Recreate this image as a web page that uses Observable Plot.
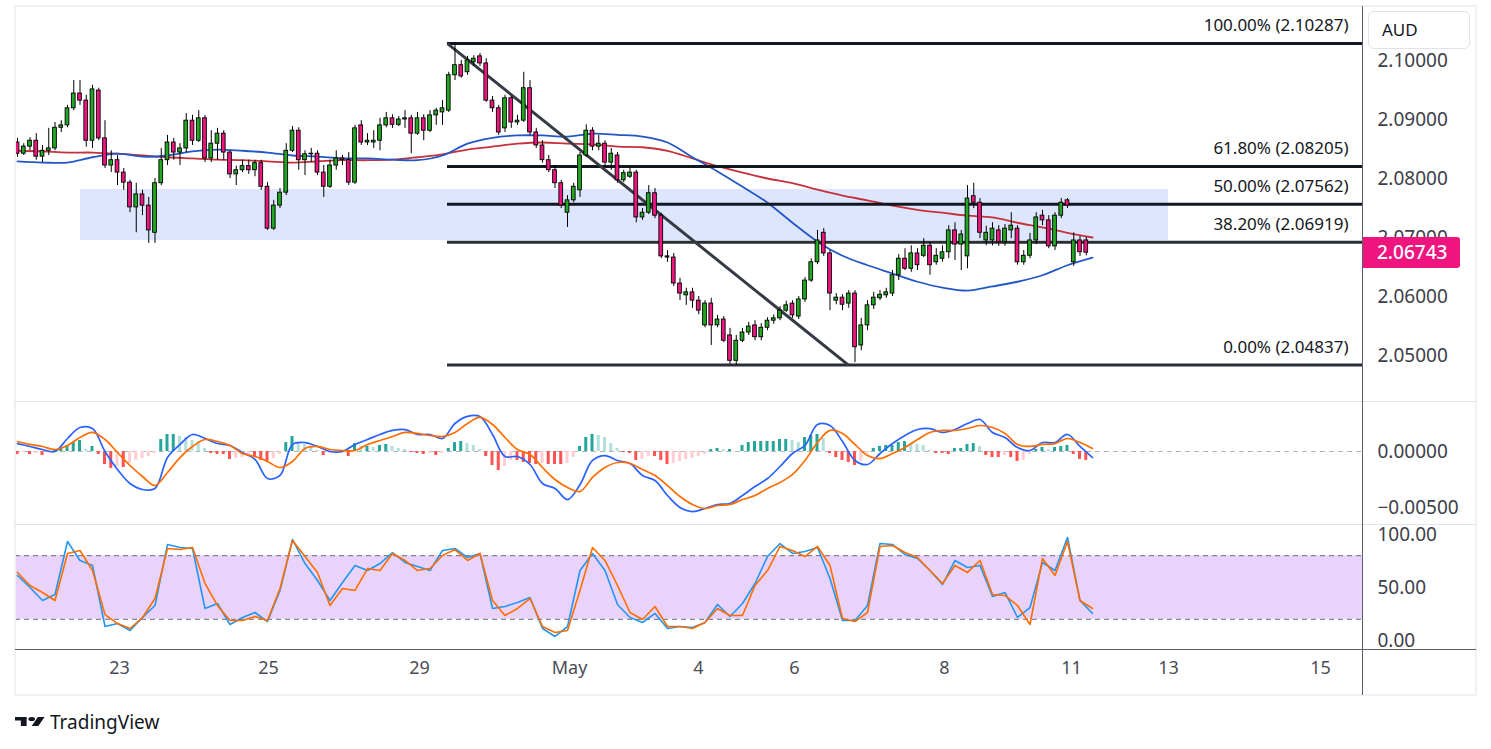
<!DOCTYPE html>
<html><head><meta charset="utf-8">
<script src="https://cdn.jsdelivr.net/npm/d3@7"></script>
<script src="https://cdn.jsdelivr.net/npm/@observablehq/plot@0.6"></script>
<style>
html,body{margin:0;padding:0;background:#fff;}
#root{position:relative;width:1491px;height:749px;overflow:hidden;background:#fff;font-family:"Noto Sans",sans-serif;}
.abs{position:absolute;}
</style></head><body><div id="root"></div>
<script>
// ---------- DATA (2-hour candles, pair quoted in AUD) ----------
const candleOpen = [
2.0861,2.0842,2.0854,2.0864,2.0837,2.0847,2.0851,2.0886,2.0890,2.0919,
2.0944,2.0932,2.0864,2.0949,2.0868,2.0822,2.0831,2.0810,2.0793,2.0751,
2.0773,2.0754,2.0708,2.0792,2.0831,2.0861,2.0844,2.0851,2.0898,2.0864,
2.0902,2.0834,2.0859,2.0876,2.0844,2.0807,2.0814,2.0821,2.0814,2.0826,
2.0786,2.0715,2.0754,2.0776,2.0847,2.0881,2.0831,2.0841,2.0842,2.0810,
2.0786,2.0822,2.0834,2.0831,2.0793,2.0890,2.0861,2.0861,2.0864,2.0890,
2.0902,2.0891,2.0900,2.0902,2.0876,2.0902,2.0881,2.0907,2.0912,2.0915,
2.0975,2.0992,2.0980,2.0997,2.1007,2.0995,2.0932,2.0919,2.0885,2.0936,
2.0895,2.0898,2.0953,2.0878,2.0856,2.0831,2.0814,2.0792,2.0742,2.0763,
2.0780,2.0839,2.0881,2.0854,2.0859,2.0827,2.0839,2.0797,2.0803,2.0810,
2.0734,2.0742,2.0775,2.0737,2.0668,2.0666,2.0622,2.0602,2.0607,2.0593,
2.0551,2.0588,2.0551,2.0561,2.0534,2.0491,2.0525,2.0539,2.0551,2.0531,
2.0547,2.0559,2.0563,2.0576,2.0588,2.0566,2.0595,2.0627,2.0658,2.0708,
2.0673,2.0593,2.0598,2.0588,2.0605,2.0517,2.0551,2.0585,2.0597,2.0602,
2.0605,2.0636,2.0664,2.0647,2.0673,2.0669,2.0686,2.0658,2.0664,2.0675,
2.0712,2.0688,2.0668,2.0770,2.0759,2.0695,2.0695,2.0712,2.0692,2.0712,
2.0715,2.0658,2.0669,2.0695,2.0737,2.0729,2.0685,2.0737,2.0763,2.0658,
2.0695,2.0695];
const candleHigh = [
2.0868,2.0859,2.0869,2.0876,2.0856,2.0885,2.0895,2.0898,2.0924,2.0966,
2.0966,2.0941,2.0958,2.0953,2.0898,2.0847,2.0839,2.0817,2.0797,2.0792,
2.0780,2.0768,2.0800,2.0851,2.0873,2.0868,2.0859,2.0910,2.0907,2.0915,
2.0907,2.0881,2.0885,2.0881,2.0847,2.0821,2.0831,2.0831,2.0831,2.0831,
2.0793,2.0763,2.0783,2.0859,2.0888,2.0886,2.0847,2.0851,2.0847,2.0822,
2.0831,2.0847,2.0839,2.0844,2.0890,2.0898,2.0876,2.0881,2.0902,2.0912,
2.0908,2.0905,2.0915,2.0907,2.0912,2.0908,2.0915,2.0919,2.0932,2.0980,
2.1029,2.1000,2.1007,2.1008,2.1012,2.1003,2.0939,2.0924,2.0941,2.0939,
2.0907,2.0980,2.0966,2.0885,2.0864,2.0839,2.0822,2.0797,2.0771,2.0792,
2.0844,2.0891,2.0886,2.0873,2.0864,2.0851,2.0844,2.0814,2.0817,2.0814,
2.0749,2.0788,2.0783,2.0741,2.0678,2.0673,2.0631,2.0614,2.0614,2.0600,
2.0593,2.0597,2.0568,2.0566,2.0546,2.0534,2.0546,2.0556,2.0559,2.0554,
2.0564,2.0569,2.0583,2.0592,2.0593,2.0600,2.0632,2.0664,2.0712,2.0715,
2.0678,2.0605,2.0603,2.0610,2.0610,2.0563,2.0593,2.0607,2.0610,2.0614,
2.0644,2.0671,2.0681,2.0686,2.0681,2.0698,2.0692,2.0681,2.0686,2.0720,
2.0725,2.0712,2.0788,2.0792,2.0766,2.0719,2.0725,2.0720,2.0722,2.0742,
2.0720,2.0678,2.0707,2.0742,2.0746,2.0737,2.0742,2.0766,2.0766,2.0708,
2.0702,2.0700];
const candleLow = [
2.0836,2.0839,2.0847,2.0831,2.0827,2.0839,2.0847,2.0878,2.0886,2.0915,
2.0924,2.0853,2.0851,2.0864,2.0817,2.0810,2.0788,2.0780,2.0742,2.0708,
2.0737,2.0690,2.0690,2.0788,2.0822,2.0831,2.0822,2.0844,2.0856,2.0861,
2.0827,2.0827,2.0831,2.0831,2.0800,2.0788,2.0810,2.0807,2.0803,2.0780,
2.0712,2.0712,2.0749,2.0771,2.0844,2.0814,2.0805,2.0827,2.0805,2.0768,
2.0783,2.0814,2.0822,2.0788,2.0790,2.0856,2.0856,2.0851,2.0847,2.0886,
2.0885,2.0888,2.0885,2.0842,2.0873,2.0864,2.0878,2.0890,2.0890,2.0912,
2.0966,2.0970,2.0975,2.0990,2.0990,2.0929,2.0912,2.0873,2.0878,2.0885,
2.0890,2.0895,2.0873,2.0851,2.0826,2.0810,2.0783,2.0749,2.0717,2.0759,
2.0768,2.0836,2.0847,2.0847,2.0821,2.0814,2.0792,2.0793,2.0800,2.0725,
2.0729,2.0739,2.0732,2.0664,2.0658,2.0617,2.0593,2.0585,2.0580,2.0569,
2.0547,2.0517,2.0547,2.0522,2.0485,2.0483,2.0522,2.0534,2.0525,2.0525,
2.0542,2.0553,2.0559,2.0573,2.0563,2.0561,2.0590,2.0624,2.0654,2.0668,
2.0576,2.0586,2.0576,2.0580,2.0488,2.0508,2.0542,2.0578,2.0593,2.0597,
2.0600,2.0627,2.0644,2.0641,2.0644,2.0666,2.0636,2.0653,2.0658,2.0664,
2.0661,2.0644,2.0647,2.0749,2.0698,2.0686,2.0686,2.0685,2.0685,2.0698,
2.0653,2.0653,2.0664,2.0688,2.0720,2.0681,2.0678,2.0732,2.0749,2.0651,
2.0668,2.0669];
const candleClose = [
2.0842,2.0854,2.0864,2.0837,2.0847,2.0851,2.0886,2.0890,2.0919,2.0944,
2.0932,2.0864,2.0951,2.0868,2.0822,2.0831,2.0810,2.0793,2.0751,2.0773,
2.0754,2.0712,2.0792,2.0831,2.0861,2.0844,2.0851,2.0898,2.0864,2.0902,
2.0834,2.0859,2.0876,2.0844,2.0807,2.0814,2.0821,2.0814,2.0826,2.0786,
2.0715,2.0754,2.0776,2.0847,2.0881,2.0831,2.0841,2.0842,2.0810,2.0786,
2.0822,2.0834,2.0831,2.0793,2.0885,2.0861,2.0864,2.0864,2.0890,2.0902,
2.0891,2.0900,2.0902,2.0876,2.0902,2.0881,2.0907,2.0915,2.0919,2.0975,
2.0992,2.0973,2.1000,2.1003,2.0995,2.0932,2.0919,2.0878,2.0936,2.0895,
2.0898,2.0953,2.0878,2.0856,2.0831,2.0814,2.0792,2.0754,2.0763,2.0786,
2.0839,2.0881,2.0854,2.0859,2.0827,2.0842,2.0797,2.0809,2.0810,2.0734,
2.0742,2.0775,2.0737,2.0668,2.0666,2.0622,2.0605,2.0607,2.0593,2.0576,
2.0588,2.0551,2.0561,2.0525,2.0491,2.0525,2.0539,2.0549,2.0531,2.0547,
2.0559,2.0563,2.0576,2.0585,2.0568,2.0595,2.0627,2.0658,2.0695,2.0673,
2.0605,2.0598,2.0586,2.0605,2.0514,2.0551,2.0585,2.0598,2.0603,2.0607,
2.0636,2.0664,2.0647,2.0673,2.0653,2.0686,2.0653,2.0669,2.0675,2.0712,
2.0688,2.0705,2.0766,2.0759,2.0708,2.0708,2.0715,2.0692,2.0715,2.0720,
2.0658,2.0669,2.0695,2.0734,2.0729,2.0685,2.0737,2.0759,2.0754,2.0695,
2.0675,2.06743];

// moving averages, read every 4 candles
const maRed = [
2.0847,2.0846,2.0844,2.0844,2.0842,2.0839,2.0836,2.0834,2.0832,2.0831,
2.0829,2.0827,2.0829,2.0831,2.0831,2.0832,2.0836,2.0841,2.0849,2.0854,
2.0859,2.0861,2.0859,2.0858,2.0854,2.0853,2.0847,2.0834,2.0821,2.0810,
2.0800,2.0792,2.0781,2.0771,2.0763,2.0754,2.0747,2.0742,2.0737,2.0734,
2.0725,2.0717,2.0708,2.0700];
const maBlue = [
2.0829,2.0827,2.0827,2.0836,2.0842,2.0837,2.0839,2.0846,2.0849,2.0847,
2.0844,2.0839,2.0837,2.0834,2.0834,2.0832,2.0831,2.0839,2.0859,2.0869,
2.0873,2.0873,2.0871,2.0876,2.0874,2.0871,2.0861,2.0836,2.0812,2.0786,
2.0759,2.0725,2.0693,2.0669,2.0653,2.0639,2.0625,2.0615,2.0610,2.0617,
2.0625,2.0636,2.0653,2.0666];

// MACD, read every 2 candles
const macdLine = [
0.00071,0.00045,0.00018,0,0.00116,0.00214,0.00205,0,-0.00161,-0.00286,
-0.00339,-0.00330,-0.00054,0.00063,0.00152,0.00116,0.00071,0.00054,-0.00009,-0.00071,
-0.00241,-0.00214,0.00063,0.00080,0.00045,0,0,0.00063,0.00107,0.00152,
0.00188,0.00196,0.00152,0.00152,0.00116,0.00250,0.00313,0.00313,0.00152,-0.00045,
-0.00045,-0.00116,-0.00286,-0.00330,-0.00429,-0.00295,-0.00080,-0.00036,-0.00080,-0.00107,
-0.00214,-0.00259,-0.00393,-0.00500,-0.00536,-0.00509,-0.00473,-0.00464,-0.00393,-0.00313,
-0.00241,-0.00134,-0.00018,0.00054,0.00241,0.00232,0.00089,-0.00080,-0.00116,-0.00018,
0.00071,0.00143,0.00196,0.00205,0.00170,0.00196,0.00250,0.00286,0.00170,0.00125,
0.00036,0.00009,0.00080,0.00080,0.00152,0.00045,-0.00054];
const macdSignal = [
0.00089,0.00063,0.00045,0.00018,0.00054,0.00125,0.00170,0.00107,-0.00009,-0.00125,
-0.00223,-0.00304,-0.00188,-0.00054,0.00045,0.00107,0.00089,0.00054,-0.00018,-0.00045,
-0.00089,-0.00143,-0.00089,0.00027,0.00045,0.00018,0.00009,0.00009,0.00063,0.00098,
0.00134,0.00170,0.00161,0.00143,0.00134,0.00170,0.00250,0.00304,0.00241,0.00125,
0.00018,-0.00027,-0.00143,-0.00250,-0.00321,-0.00357,-0.00232,-0.00143,-0.00098,-0.00107,
-0.00161,-0.00214,-0.00304,-0.00402,-0.00473,-0.00509,-0.00482,-0.00473,-0.00429,-0.00393,
-0.00330,-0.00277,-0.00205,-0.00080,0.00080,0.00188,0.00161,0.00063,-0.00036,-0.00063,
-0.00018,0.00036,0.00107,0.00170,0.00188,0.00188,0.00205,0.00232,0.00214,0.00161,
0.00063,0.00045,0.00063,0.00071,0.00116,0.00080,0.00027];
// MACD histogram, one bar per candle
const macdHist = [
-0.00027,-0.00009,-0.00027,-0.00018,-0.00036,-0.00018,0.00009,0.00027,0.00054,0.00080,
0.00098,0.00018,0.00045,-0.00027,-0.00116,-0.00152,-0.00134,-0.00143,-0.00107,-0.00080,
-0.00063,-0.00045,-0.00018,0.00107,0.00152,0.00152,0.00134,0.00125,0.00098,0.00089,
0.00027,-0.00018,-0.00027,-0.00027,-0.00071,-0.00063,-0.00054,-0.00045,-0.00054,-0.00080,
-0.00089,-0.00063,-0.00027,0.00080,0.00134,0.00080,0.00063,0.00045,0.00009,-0.00036,
-0.00018,-0.00009,-0.00009,-0.00045,0.00071,0.00045,0.00045,0.00036,0.00054,0.00063,
0.00045,0.00027,0.00018,-0.00009,-0.00018,-0.00027,-0.00018,-0.00036,-0.00018,0.00027,
0.00080,0.00089,0.00071,0.00054,0.00018,-0.00045,-0.00125,-0.00170,-0.00134,-0.00080,
-0.00080,-0.00098,-0.00107,-0.00116,-0.00107,-0.00116,-0.00116,-0.00116,-0.00107,-0.00054,
0.00045,0.00125,0.00152,0.00143,0.00125,0.00071,0.00027,-0.00009,-0.00018,-0.00080,
-0.00071,-0.00045,-0.00045,-0.00080,-0.00116,-0.00107,-0.00089,-0.00071,-0.00063,-0.00045,
-0.00027,0.00018,0.00027,0.00018,0.00018,0,0.00054,0.00080,0.00089,0.00089,
0.00089,0.00089,0.00107,0.00107,0.00098,0.00080,0.00125,0.00143,0.00152,0.00116,
-0.00018,-0.00054,-0.00080,-0.00098,-0.00125,-0.00089,-0.00027,0.00027,0.00045,0.00054,
0.00054,0.00080,0.00089,0.00071,0.00063,0.00054,0.00009,-0.00018,-0.00018,-0.00027,
0.00027,0.00027,0.00063,0.00071,0.00045,-0.00036,-0.00054,-0.00054,-0.00036,-0.00054,
-0.00089,-0.00080,-0.00027,0.00018,0.00036,0.00018,0.00036,0.00045,0.00054,-0.00027,
-0.00071,-0.00080];

// Stochastic %K / %D, read every 2 candles
const stochK = [
61.3,50.0,37.7,43.4,93.4,75.5,70.8,13.2,16.0,9.4,
21.7,33.0,90.6,87.7,86.8,30.2,34.9,15.1,21.7,26.4,
17.9,47.2,95.3,72.6,56.6,37.7,54.7,70.8,66.0,72.6,
83.0,73.6,69.8,66.0,84.9,86.8,78.3,82.1,30.2,32.1,
35.8,40.6,11.3,3.8,13.2,66.0,82.1,66.0,34.0,21.7,
17.0,25.5,11.3,13.2,12.3,17.0,34.0,22.6,34.9,53.8,
79.2,91.5,82.1,84.0,87.7,58.5,18.9,18.9,33.0,91.5,
90.6,81.1,77.4,66.0,52.8,75.5,68.9,70.8,41.5,45.3,
21.7,31.1,73.6,66.0,97.2,37.7,25.5];
const stochD = [
64.2,51.9,45.3,37.7,82.1,84.9,66.0,24.5,16.0,11.3,
21.7,39.6,86.8,85.8,87.7,53.8,33.0,18.9,18.9,22.6,
18.9,49.1,94.3,79.2,64.2,33.0,49.1,47.2,67.9,66.0,
82.1,75.5,66.0,67.9,80.2,85.8,75.5,82.1,37.7,23.6,
30.2,39.6,13.2,7.5,9.4,47.2,87.7,75.5,51.9,26.4,
19.8,32.1,13.2,13.2,11.3,17.0,30.2,23.6,23.6,51.9,
66.0,88.7,84.9,79.2,88.7,70.8,20.8,17.9,26.4,88.7,
89.6,83.0,78.3,66.0,53.8,70.8,64.2,75.5,43.4,42.5,
33.0,15.1,77.4,61.3,93.4,37.7,30.2];

// Fibonacci retracement
const fibLevels = [1, 0.618, 0.5, 0.382, 0];
const fibPrices = [2.10287, 2.08205, 2.07562, 2.06919, 2.04837];
const fibStartIdx = 68.8;           // candle index of the swing high
const trendStartIdx = 68.8, trendEndIdx = 132.96;
// support / resistance zone (candle index range, price range)
const zoneIdx = [10.08, 184.16];
const zonePrice = [2.06949, 2.07814];

// axis ticks
const priceTicks = [2.05, 2.06, 2.07, 2.08, 2.09, 2.10];
const macdTicks = [0, -0.005];
const stochTicks = [0, 50, 100];
const xTickPos = [16.32, 40.16, 64.32, 88.32, 108.96, 124.32, 148.32, 168.64, 184.16, 208.48];
const xTickLabels = ["23", "25", "29", "May", "4", "6", "8", "11", "13", "15"];
const currency = "AUD";

// ---------- BUILD ----------
const root = document.getElementById("root");
const W = 1491, ML = 15, MR = 129;
const xDomain = [-0.32, 215.2];
const FONT = "Noto Sans";
const UP = "#22a722", DOWN = "#f0147f";
const AXIS_TXT = "#3d404a";

const N = candleClose.length;
const candles = d3.range(N).map(i => ({i, o: candleOpen[i], h: candleHigh[i], l: candleLow[i], c: candleClose[i]}));
const maIdx = d3.range(0, 173, 4);
const oscIdx = d3.range(0, 173, 2);
const redData = maRed.map((v, k) => ({x: maIdx[k], y: v}));
const blueData = maBlue.map((v, k) => ({x: maIdx[k], y: v}));
const fibData = fibLevels.map((l, k) => ({l, p: fibPrices[k], label: `${(l * 100).toFixed(2)}% (${fibPrices[k].toFixed(5)})`}));

function place(el, left, top) {
  const w = document.createElement("div");
  w.className = "abs"; w.style.left = left + "px"; w.style.top = top + "px";
  w.appendChild(el); root.appendChild(w); return w;
}
function box(left, top, width, height, css) {
  const d = document.createElement("div");
  d.className = "abs";
  Object.assign(d.style, {left: left + "px", top: top + "px", width: width + "px", height: height + "px"}, css || {});
  root.appendChild(d); return d;
}
const baseStyle = {background: "transparent", overflow: "visible", fontFamily: FONT};

// main price pane: page y 7..401
const MAIN_TOP = 7;
const main = Plot.plot({
  width: W, height: 394, marginLeft: ML, marginRight: MR, marginTop: 0, marginBottom: 0,
  x: {domain: xDomain, axis: null},
  y: {domain: [2.042203, 2.108983], axis: null},
  style: baseStyle,
  marks: [
    Plot.rect([0], {x1: () => zoneIdx[0], x2: () => zoneIdx[1], y1: () => zonePrice[0], y2: () => zonePrice[1], fill: "#dee6fd"}),
    Plot.text(priceTicks, {y: d => d, text: d => d.toFixed(5), frameAnchor: "right", dx: 15, textAnchor: "start", fontSize: 19, fill: AXIS_TXT}),
    Plot.line(redData, {x: "x", y: "y", stroke: "#c4323b", strokeWidth: 1.8, curve: "catmull-rom"}),
    Plot.line(blueData, {x: "x", y: "y", stroke: "#2457c5", strokeWidth: 1.8, curve: "catmull-rom"}),
    Plot.ruleY(fibData.slice(0, 3), {y: "p", x1: () => fibStartIdx, x2: () => xDomain[1], stroke: "#131722", strokeWidth: 3}),
    Plot.ruleY(fibData.slice(3), {y: "p", x1: () => fibStartIdx, x2: () => xDomain[1], stroke: "#2a2e39", strokeWidth: 3}),
    Plot.text(fibData, {y: "p", text: "label", frameAnchor: "right", dx: -14, dy: -18, textAnchor: "end", fontSize: 17, fill: "#131722"}),
    Plot.link([0], {x1: () => trendStartIdx, y1: () => fibPrices[0], x2: () => trendEndIdx, y2: () => fibPrices[4], stroke: "#363a45", strokeWidth: 3}),
    Plot.ruleX(candles, {x: "i", y1: "l", y2: "h", stroke: "#000", strokeWidth: 1}),
    Plot.rect(candles.filter(d => d.c >= d.o), {x1: d => d.i - 0.3, x2: d => d.i + 0.3, y1: "o", y2: "c", fill: UP, stroke: "#000", strokeWidth: 0.9}),
    Plot.rect(candles.filter(d => d.c < d.o), {x1: d => d.i - 0.3, x2: d => d.i + 0.3, y1: "o", y2: "c", fill: DOWN, stroke: "#000", strokeWidth: 0.9})
  ]
});
place(main, 0, MAIN_TOP);

// MACD pane: page y 401..524
const hist = macdHist.map((v, i) => {
  const p = i > 0 ? macdHist[i - 1] : v;
  let col;
  if (v >= 0) col = v >= p ? "a" : "b"; else col = v <= p ? "c" : "d";
  return {i, v, col};
});
const histColors = {a: "#26a69a", b: "#b2dfdb", c: "#ff5252", d: "#ffcdd2"};
const macd = Plot.plot({
  width: W, height: 123, marginLeft: ML, marginRight: MR, marginTop: 0, marginBottom: 0,
  x: {domain: xDomain, axis: null},
  y: {domain: [-0.0065179, 0.0044643], axis: null},
  style: baseStyle,
  marks: [
    Plot.ruleY([0], {stroke: "#b2b5be", strokeDasharray: "5,4", strokeWidth: 1}),
    ...Object.keys(histColors).map(k => Plot.rect(hist.filter(d => d.col === k), {x1: d => d.i - 0.24, x2: d => d.i + 0.24, y1: () => 0, y2: "v", fill: histColors[k]})),
    Plot.line(macdLine.map((v, k) => ({x: oscIdx[k], y: v})), {x: "x", y: "y", stroke: "#2962ff", strokeWidth: 1.7, curve: "catmull-rom"}),
    Plot.line(macdSignal.map((v, k) => ({x: oscIdx[k], y: v})), {x: "x", y: "y", stroke: "#ff6d00", strokeWidth: 1.7, curve: "catmull-rom"}),
    Plot.text(macdTicks, {y: d => d, text: d => (d < 0 ? "\u2212" : "") + Math.abs(d).toFixed(5), frameAnchor: "right", dx: 15, textAnchor: "start", fontSize: 19, fill: AXIS_TXT})
  ]
});
place(macd, 0, 401);

// Stochastic pane: page y 524..650, plus time axis below to 695
const stoch = Plot.plot({
  width: W, height: 171, marginLeft: ML, marginRight: MR, marginTop: 0, marginBottom: 45,
  x: {domain: xDomain, axis: null},
  y: {domain: [-9.434, 109.434], axis: null},
  style: baseStyle,
  marks: [
    Plot.rect([0], {x1: () => xDomain[0], x2: () => xDomain[1], y1: () => 20, y2: () => 80, fill: "#e9d3fb"}),
    Plot.ruleY([80, 20], {stroke: "#6a6d78", strokeDasharray: "5,4", strokeWidth: 1}),
    Plot.line(stochK.map((v, k) => ({x: oscIdx[k], y: v})), {x: "x", y: "y", stroke: "#2196f3", strokeWidth: 1.6}),
    Plot.line(stochD.map((v, k) => ({x: oscIdx[k], y: v})), {x: "x", y: "y", stroke: "#ff6d00", strokeWidth: 1.6}),
    Plot.text(stochTicks, {y: d => d, text: d => d.toFixed(2), frameAnchor: "right", dx: 15, textAnchor: "start", fontSize: 19, fill: AXIS_TXT}),
    Plot.text(xTickLabels, {x: (d, i) => xTickPos[i], text: d => d, frameAnchor: "bottom", dy: 23, fontSize: 18, fill: "#4a4d56"})
  ]
});
place(stoch, 0, 524);

// ---------- chart chrome ----------
box(14, 5, 1463, 691, {border: "2px solid #eef0f4", boxSizing: "border-box"});
box(15, 401, 1461, 1, {background: "#e0e3eb"});
box(15, 524, 1461, 1, {background: "#e0e3eb"});
box(15, 649, 1461, 1, {background: "#5d606b"});
box(1362, 6, 1, 689, {background: "#5d606b"});

// currency box
const cur = box(1368, 11, 102, 38, {background: "#fff", border: "1px solid #e0e3eb", borderRadius: "6px", boxSizing: "border-box",
  fontSize: "17px", lineHeight: "36px", paddingLeft: "13px", color: "#131722"});
cur.textContent = currency;

// last price label
const lastY = MAIN_TOP + main.scale("y").apply(candleClose[N - 1]);
const lbl = box(1363, Math.round(lastY - 15.5), 97, 31, {background: DOWN, color: "#fff", fontSize: "19px", lineHeight: "31px",
  paddingLeft: "14px", boxSizing: "border-box", borderRadius: "0 3px 3px 0", fontWeight: "500"});
lbl.textContent = candleClose[N - 1].toFixed(5);

// TradingView logo
const logo = document.createElement("div");
logo.className = "abs";
Object.assign(logo.style, {left: "15px", top: "709px", display: "flex", alignItems: "center", gap: "5px", color: "#131722", fontSize: "19px", fontWeight: "400"});
logo.innerHTML = '<svg width="30" height="14" viewBox="0 0 36 28" preserveAspectRatio="none"><path fill="#131722" d="M14 22H7V11H0V4h14v18zM28 22h-8l7.5-18h8L28 22z"/><circle fill="#131722" cx="20" cy="8" r="4"/></svg><span>TradingView</span>';
root.appendChild(logo);
</script></body></html>
